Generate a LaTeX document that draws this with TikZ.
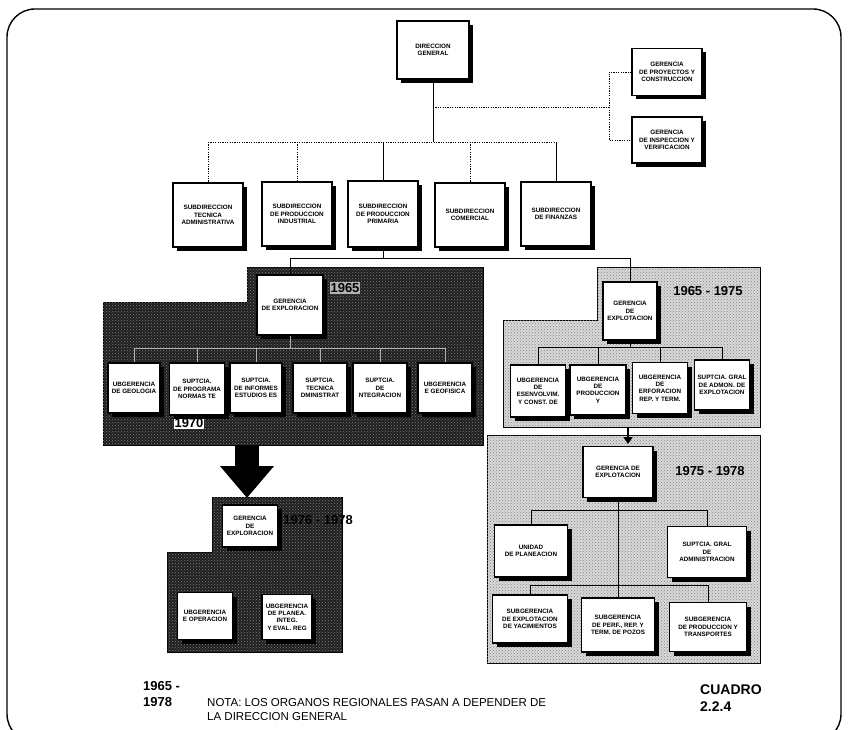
\documentclass[tikz,border=0pt]{standalone}
\usepackage{fontspec}
\setmainfont{Liberation Sans}
\usetikzlibrary{shadows,arrows.meta,patterns}
\begin{document}
\begin{tikzpicture}[x=1pt,y=-1pt,
  bx/.style={draw, line width=1.3, fill=white, align=center, inner sep=1,
    font=\bfseries\fontsize{6.3}{7.3}\selectfont,
    drop shadow={shadow xshift=4pt, shadow yshift=-4pt, fill=black, opacity=1}},
  dotl/.style={line width=0.9, dash pattern=on 1.2pt off 1.2pt},
  conn/.style={line width=0.9},
  inconn/.style={line width=0.9, draw=white!70!black},
  darkreg/.style={fill=black!88, draw=black, line width=1,
    postaction={pattern=crosshatch dots, pattern color=black!50}},
  lightreg/.style={fill=black!15, draw=black, line width=1,
    postaction={pattern=crosshatch dots, pattern color=black!50}},
  yr/.style={font=\bfseries\fontsize{13}{14}\selectfont, inner sep=1},
  foot/.style={font=\bfseries\fontsize{13}{16}\selectfont, inner sep=0, anchor=west, align=left}
]
\useasboundingbox (0,0) rectangle (848,730);
\clip (0,0) rectangle (848,730);
\draw[line width=1.4, rounded corners=28] (7,9) rectangle (841,742);

% regions
\path[darkreg] (247,267) -- (483,267) -- (483,445) -- (103,445) -- (103,302) -- (247,302) -- cycle;
\path[darkreg] (212,497) -- (342,497) -- (342,652) -- (167,652) -- (167,552) -- (212,552) -- cycle;
\path[lightreg] (597,267) -- (760,267) -- (760,427) -- (503,427) -- (503,320) -- (597,320) -- cycle;
\path[lightreg] (487,435) rectangle (760,663);

% year labels
\node[yr, fill=black!30] (y65) at (345,288) {1965};
\node[yr, fill=white] (y70) at (189,423) {1970};
\node[yr, anchor=east] (y76) at (354,520) {1976 - 1978};
\node[yr] (y6575) at (708,291) {1965 - 1975};
\node[yr] (y7578) at (710,471) {1975 - 1978};

% top level
\node[bx, minimum width=72, minimum height=58] (dg) at (433,50) {DIRECCION\\GENERAL};
\node[bx, minimum width=70, minimum height=47] (gp) at (667,72) {GERENCIA\\DE PROYECTOS Y\\CONSTRUCCION};
\node[bx, minimum width=70, minimum height=46] (gi) at (667,140) {GERENCIA\\DE INSPECCION Y\\VERIFICACION};

\node[bx, minimum width=70, minimum height=64] (s1) at (208,215) {SUBDIRECCION\\TECNICA\\ADMINISTRATIVA};
\node[bx, minimum width=70, minimum height=64] (s2) at (297,214) {SUBDIRECCION\\DE PRODUCCION\\INDUSTRIAL};
\node[bx, minimum width=70, minimum height=66] (s3) at (383,214) {SUBDIRECCION\\DE PRODUCCION\\PRIMARIA};
\node[bx, minimum width=70, minimum height=64] (s4) at (470,215) {SUBDIRECCION\\COMERCIAL};
\node[bx, minimum width=70, minimum height=64] (s5) at (556,214) {SUBDIRECCION\\DE FINANZAS};

% exploracion 1965
\node[bx, minimum width=66, minimum height=60] (ge) at (290,305) {GERENCIA\\DE EXPLORACION};
\node[bx, minimum width=52, minimum height=50] (e1) at (134,388) {UBGERENCIA\\DE GEOLOGIA};
\node[bx, minimum width=55, minimum height=52] (e2) at (197,389) {SUPTCIA.\\DE PROGRAMA\\NORMAS TE};
\node[bx, minimum width=52, minimum height=50] (e3) at (256,388) {SUPTCIA.\\DE INFORMES\\ESTUDIOS ES};
\node[bx, minimum width=54, minimum height=50] (e4) at (320,388) {SUPTCIA.\\TECNICA\\DMINISTRAT};
\node[bx, minimum width=54, minimum height=50] (e5) at (380,388) {SUPTCIA.\\DE\\NTEGRACION};
\node[bx, minimum width=54, minimum height=50] (e6) at (445,388) {UBGERENCIA\\E GEOFISICA};

% exploracion 1976
\node[bx, minimum width=55, minimum height=42] (lge) at (250,526) {GERENCIA\\DE\\EXPLORACION};
\node[bx, minimum width=55, minimum height=47] (lo1) at (205,616) {UBGERENCIA\\E OPERACION};
\node[bx, minimum width=50, minimum height=45] (lo2) at (287,617) {UBGERENCIA\\DE PLANEA.\\INTEG.\\Y EVAL. REG};

% explotacion 1965-1975
\node[bx, minimum width=54, minimum height=58] (gx) at (630,311) {GERENCIA\\DE\\EXPLOTACION};
\node[bx, minimum width=55, minimum height=52] (x1) at (538,391) {UBGERENCIA\\DE\\ESENVOLVIM.\\Y CONST. DE};
\node[bx, minimum width=56, minimum height=50] (x2) at (598,390) {UBGERENCIA\\DE\\PRODUCCION\\Y};
\node[bx, minimum width=55, minimum height=51] (x3) at (660,388) {UBGERENCIA\\DE\\ERFORACION\\REP. Y TERM.};
\node[bx, minimum width=55, minimum height=50] (x4) at (722,385) {SUPTCIA. GRAL\\DE ADMON. DE\\EXPLOTACION};

% explotacion 1975-1978
\node[bx, minimum width=70, minimum height=51] (gy) at (618,472) {GERENCIA DE\\EXPLOTACION};
\node[bx, minimum width=73, minimum height=52] (u1) at (531,551) {UNIDAD\\DE PLANEACION};
\node[bx, minimum width=79, minimum height=51] (u2) at (707,552) {SUPTCIA. GRAL\\DE\\ADMINISTRACION};
\node[bx, minimum width=75, minimum height=48] (v1) at (530,619) {SUBGERENCIA\\DE EXPLOTACION\\DE YACIMIENTOS};
\node[bx, minimum width=73, minimum height=54] (v2) at (618,625) {SUBGERENCIA\\DE PERF., REP. Y\\TERM. DE POZOS};
\node[bx, minimum width=77, minimum height=49] (v3) at (708,627) {SUBGERENCIA\\DE PRODUCCION Y\\TRANSPORTES};

% coordinates
\coordinate (hb) at (433,142);
\coordinate (ja) at (609,107);
\coordinate (hc) at (383,258);
\coordinate (ey) at (290,348);
\coordinate (rx) at (630,347);
\coordinate (uy) at (618,510);
\coordinate (vy) at (618,585);
\coordinate (la) at (247,445);
\coordinate (lb) at (247,498);
\coordinate (ra) at (628,427);
\coordinate (rb) at (628,444);

% connectors
\draw[conn] (dg.south) -- (hb);
\draw[dotl] (dg.south |- ja) -- (ja);
\draw[dotl] (gp.west) -| (ja) |- (gi.west);
\draw[dotl] (s1.north |- hb) -- (s5.north |- hb);
\draw[dotl] (s1.north |- hb) -- (s1.north);
\draw[dotl] (s2.north |- hb) -- (s2.north);
\draw[conn] (s3.north |- hb) -- (s3.north);
\draw[dotl] (s4.north |- hb) -- (s4.north);
\draw[conn] (s5.north |- hb) -- (s5.north);
\draw[conn] (s3.south) -- (hc);
\draw[conn] (ge.north) -- (ge.north |- hc) -- (gx.north |- hc) -- (gx.north);

\draw[inconn] (ge.south) -- (ey);
\draw[inconn] (e1.north |- ey) -- (e6.north |- ey);
\foreach \n in {e1,e2,e3,e4,e5,e6} \draw[inconn] (\n.north |- ey) -- (\n.north);

\draw[conn] (gx.south) -- (rx);
\draw[conn] (x1.north |- rx) -- (x4.north |- rx);
\foreach \n in {x1,x2,x3,x4} \draw[conn] (\n.north |- rx) -- (\n.north);

\draw[conn] (gy.south) -- (v2.north);
\draw[conn] (u1.north |- uy) -- (u2.north |- uy);
\draw[conn] (u1.north |- uy) -- (u1.north);
\draw[conn] (u2.north |- uy) -- (u2.north);
\draw[conn] (v1.north |- vy) -- (v3.north |- vy);
\draw[conn] (v1.north |- vy) -- (v1.north);
\draw[conn] (v3.north |- vy) -- (v3.north);

\draw[line width=24, -{Triangle[width=52pt,length=32pt]}] (la) -- (lb);
\draw[line width=2.5, -{Triangle[width=9pt,length=7pt]}] (ra) -- (rb);

% footer
\node[foot] (f1) at (143,694) {1965 -\\1978};
\node[anchor=north west, align=left, inner sep=0, font=\fontsize{11.5}{14.5}\selectfont] (nota) at (207,698) {NOTA: LOS ORGANOS REGIONALES PASAN A DEPENDER DE\\LA DIRECCION GENERAL};
\node[foot, font=\bfseries\fontsize{14}{17}\selectfont] (cu) at (700,698) {CUADRO\\2.2.4};
\end{tikzpicture}
\end{document}
